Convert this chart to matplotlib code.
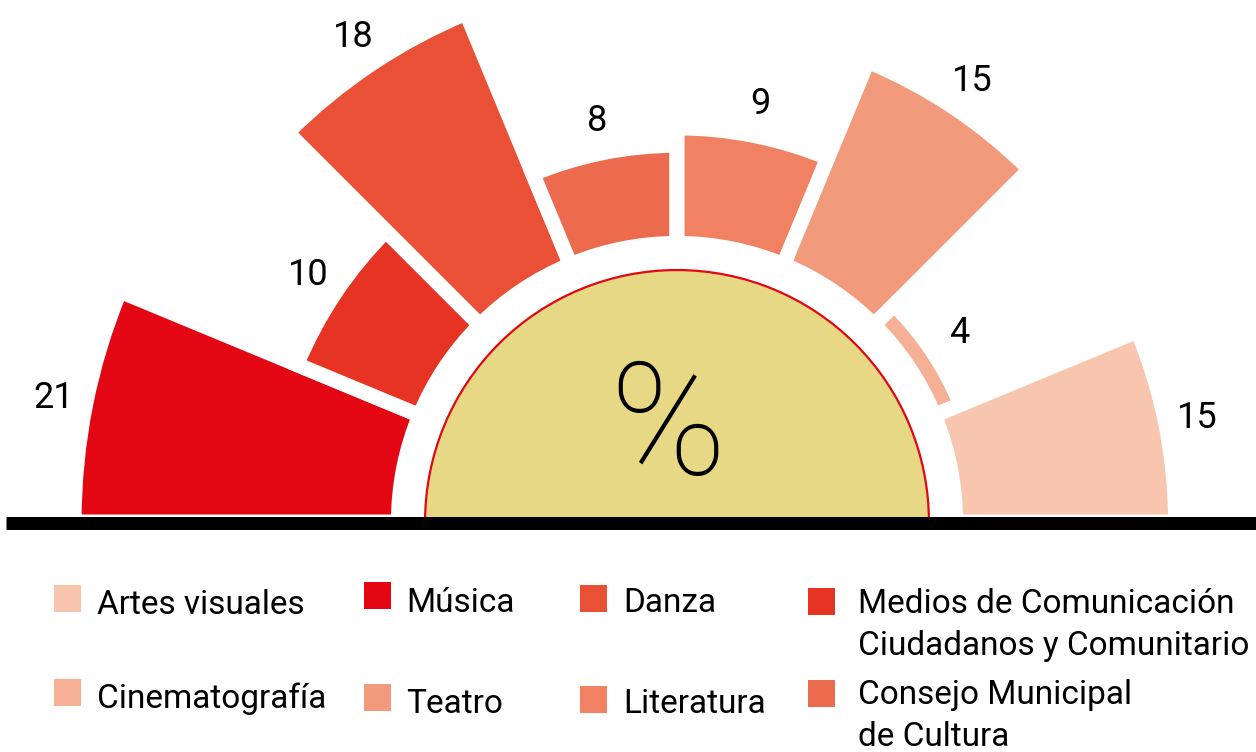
import numpy as np
import matplotlib
matplotlib.use("Agg")
import matplotlib.pyplot as plt
from matplotlib.patches import Rectangle
from matplotlib.lines import Line2D

# ---------------- data ----------------
categories = ["Música",
              "Medios de Comunicación\nCiudadanos y Comunitario",
              "Danza",
              "Consejo Municipal\nde Cultura",
              "Literatura",
              "Teatro",
              "Cinematografía",
              "Artes visuales"]
values = [21, 10, 18, 8, 9, 15, 4, 15]
colors = ["#E30613", "#E63323", "#E95036", "#EC6A4E",
          "#F08263", "#F29A7C", "#F5B096", "#F8C6AE"]
center_label = "%"

# legend order (column by column, two rows each)
legend_order = ["Artes visuales", "Cinematografía",
                "Música", "Teatro",
                "Danza", "Literatura",
                "Medios de Comunicación\nCiudadanos y Comunitario",
                "Consejo Municipal\nde Cultura"]

# ---------------- style / layout ----------------
W, H = 1256, 752
FONT = ["Roboto", "DejaVu Sans"]
plt.rcParams["font.family"] = FONT

fig = plt.figure(figsize=(W / 100, H / 100), dpi=100)

K = 17.4           # pixels per data unit
R0 = 13.65         # radial offset of origin
RTOP = 23.0
INNER = 2.36       # inner radius of bars
YELLOW_R = 0.83
cx, cy = 677, 522  # polar centre in pixels (from top-left)
Rax = (RTOP + R0) * K

ax = fig.add_axes([(cx - Rax) / W, (H - cy - Rax) / H, 2 * Rax / W, 2 * Rax / H],
                  projection="polar")
ax.set_ylim(-R0, RTOP)
ax.axis("off")

n = len(values)
slot = 180.0 / n
theta = np.deg2rad(180 - slot * (np.arange(n) + 0.5))
vals = np.array(values, dtype=float)

ax.bar(theta, vals - INNER, width=np.deg2rad(slot), bottom=INNER,
       color=colors, edgecolor="white", linewidth=10.8, zorder=2)

# central half disc
ax.bar(np.pi / 2, YELLOW_R + R0, width=np.pi, bottom=-R0,
       color="#E6D884", edgecolor="#E30613", linewidth=1.6, zorder=1)

for t, v in zip(theta, values):
    ax.text(t, v + 1.85, str(v), ha="center", va="center",
            fontsize=26, color="black")

fig.text(668 / W, 1 - 474 / H, center_label, fontsize=113, fontweight="light",
         ha="center", va="baseline", color="black")

# baseline
fig.add_artist(Line2D([6 / W, 1.0], [1 - 522.5 / H] * 2, lw=13 * 0.72,
                      color="black", solid_capstyle="butt"))

# ---------------- legend ----------------
sq_x = [54, 364, 580, 808]
txt_x = [97, 406, 623, 858]
sq_top = [[585, 679], [582, 684], [585, 686], [588, 680]]
base_y = [[614, 708], [612, 713], [612, 713], [613, 704]]
SQ = 27
LINE = 42
for idx, name in enumerate(legend_order):
    col, row = divmod(idx, 2)
    c = colors[categories.index(name)]
    top = sq_top[col][row]
    fig.add_artist(Rectangle((sq_x[col] / W, 1 - (top + SQ) / H), SQ / W, SQ / H,
                             transform=fig.transFigure, facecolor=c, edgecolor="none"))
    for k, line in enumerate(name.split("\n")):
        fig.text(txt_x[col] / W, 1 - (base_y[col][row] + k * LINE) / H, line,
                 fontsize=24, ha="left", va="baseline", color="black")

fig.savefig("out.png", dpi=100, facecolor="white")
